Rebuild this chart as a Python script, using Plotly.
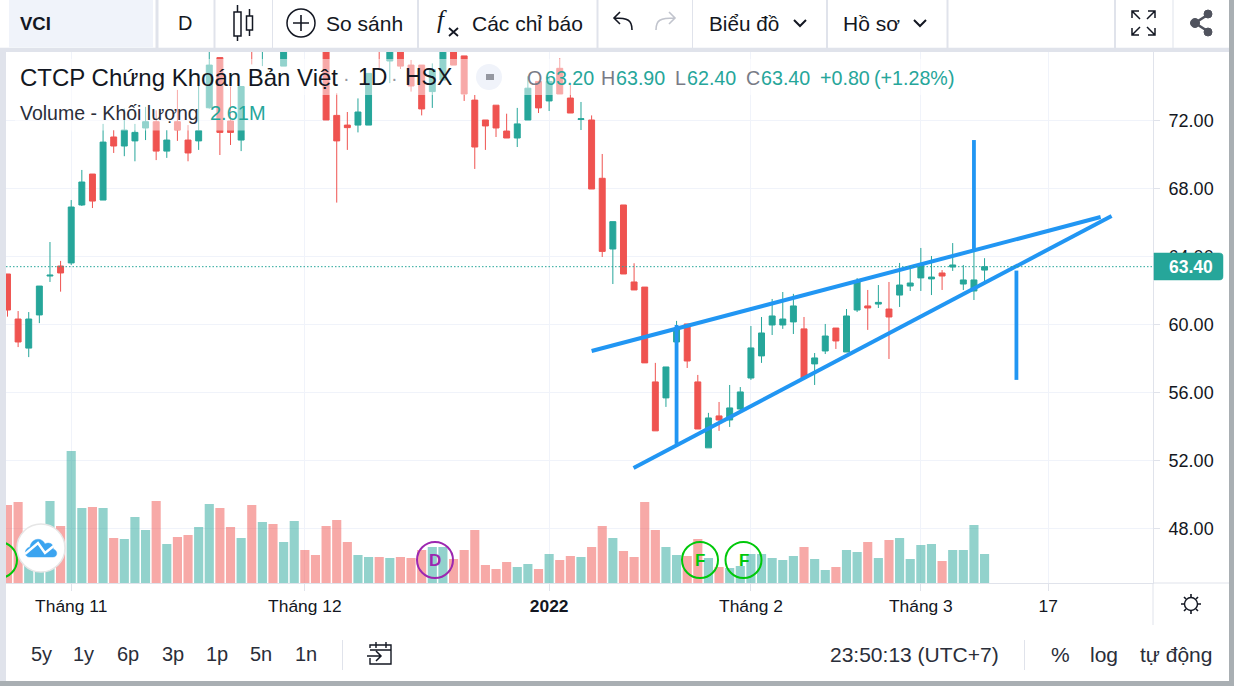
import plotly.graph_objects as go

# VCI daily candles (bars above the chart top are guesses)
opens = [62.97, 60.32, 58.61, 60.56, 62.85, 63.44, 63.62, 67.03, 68.85, 67.32, 71.03, 70.5, 70.8, 71.56, 71.93, 70.2,
         71.93, 70.85, 70.8, 72.75, 75.7, 71.97, 70.85, 77.5, 76.5, 78.0, 75.2, 76.5, 78.0, 78.5, 76.5, 72.3,
         71.73, 71.73, 71.73, 77.0, 75.5, 76.5, 75.26, 75.26, 73.7, 74.38, 76.2, 75.8, 73.2, 72.03, 72.9, 71.38,
         70.97, 72.03, 74.3, 73.15, 75.07, 73.32, 72.06, 72.03, 68.6, 64.44, 67.03, 62.5, 62.2, 56.62, 55.68, 58.97,
         60.03, 56.62, 52.74, 54.62, 54.38, 55.03, 56.85, 58.15, 59.97, 59.97, 60.15, 59.74, 57.68, 58.44, 59.79, 58.38,
         60.85, 61.09, 61.2, 60.91, 61.73, 62.26, 62.74, 62.68, 63.03, 63.38, 62.38, 61.97, 63.2]
highs = [62.97, 60.79, 60.73, 62.26, 64.85, 63.74, 67.32, 69.09, 68.85, 71.8, 71.44, 72.7, 71.8, 72.8, 72.6, 71.44,
         73.8, 71.73, 74.1, 76.2, 75.7, 74.0, 74.0, 78.0, 78.0, 78.5, 77.5, 78.0, 78.5, 79.0, 76.8, 73.6,
         72.5, 73.3, 74.77, 77.5, 77.0, 76.8, 75.56, 75.26, 75.36, 76.5, 76.5, 75.8, 73.5, 72.03, 72.9, 72.4,
         72.74, 74.6, 74.3, 74.5, 75.66, 74.09, 73.09, 72.3, 70.03, 66.05, 67.03, 63.6, 62.2, 57.74, 57.5, 60.21,
         60.03, 57.03, 54.8, 55.44, 56.44, 56.32, 59.91, 60.44, 61.5, 61.91, 61.8, 60.44, 58.32, 60.03, 59.79, 60.91,
         62.73, 62.03, 62.32, 62.5, 63.62, 63.44, 64.5, 64.03, 63.2, 64.79, 63.5, 64.67, 63.9]
lows = [60.46, 58.67, 58.08, 60.08, 62.5, 61.93, 63.5, 66.97, 66.85, 67.32, 70.09, 69.9, 69.6, 70.85, 69.67, 69.8,
        70.8, 69.6, 70.27, 72.7, 69.97, 70.56, 70.2, 75.3, 75.2, 76.5, 75.2, 76.3, 76.6, 76.8, 72.03, 67.17,
        70.27, 71.3, 71.73, 75.07, 74.2, 75.03, 73.7, 72.3, 72.74, 74.38, 75.26, 73.15, 69.15, 70.27, 71.03, 70.97,
        70.44, 72.03, 72.44, 72.56, 73.56, 72.44, 71.44, 67.97, 63.97, 62.38, 62.97, 62.03, 57.74, 53.74, 55.15, 57.32,
        57.44, 53.85, 52.74, 53.74, 53.97, 54.87, 56.74, 57.74, 59.38, 59.74, 59.44, 56.85, 56.44, 58.26, 58.56, 58.38,
        60.73, 59.68, 60.97, 57.97, 61.03, 61.97, 61.97, 61.73, 62.03, 63.15, 62.03, 61.44, 62.4]
closes = [60.85, 58.97, 60.32, 62.26, 62.9, 63.03, 66.91, 68.38, 67.26, 70.73, 70.5, 71.44, 71.3, 71.93, 70.2, 70.85,
          71.44, 70.09, 71.4, 75.26, 71.3, 71.3, 74.0, 76.4, 77.5, 77.0, 77.0, 77.5, 77.0, 77.5, 72.03, 70.8,
          71.58, 72.5, 74.77, 76.3, 76.6, 75.2, 74.03, 72.68, 75.0, 76.2, 75.26, 73.56, 70.44, 71.68, 71.56, 70.97,
          71.8, 73.9, 72.74, 74.3, 73.56, 72.44, 72.1, 67.97, 64.3, 66.05, 62.97, 62.03, 57.74, 53.74, 57.5, 59.74,
          57.85, 53.85, 54.5, 54.38, 55.09, 56.03, 58.62, 59.5, 60.5, 60.32, 61.09, 56.85, 58.03, 59.32, 59.03, 60.5,
          62.5, 60.97, 61.3, 60.44, 62.32, 62.44, 63.5, 62.79, 62.85, 63.5, 62.62, 62.62, 63.4]
volumes = [7.02, 7.29, 3.8, 4.2, 7.38, 5.13, 11.88, 6.75, 6.84, 6.75, 4.05, 3.96, 5.94, 4.77, 7.38, 3.51,
           4.14, 4.32, 5.04, 7.11, 6.75, 5.04, 4.05, 7.02, 5.49, 5.31, 3.69, 5.58, 2.97, 2.52, 5.13, 5.67,
           3.69, 2.52, 2.34, 2.34, 2.25, 2.34, 2.25, 2.97, 3.24, 3.24, 2.16, 2.97, 4.77, 1.62, 1.26, 1.89,
           1.44, 1.71, 1.26, 2.61, 2.07, 2.43, 2.34, 3.24, 5.13, 4.05, 2.88, 2.34, 7.29, 4.77, 3.24, 2.52,
           2.43, 3.96, 2.25, 1.44, 1.35, 1.53, 2.61, 2.61, 2.25, 2.07, 2.43, 3.24, 2.16, 1.17, 1.44, 2.97,
           2.79, 3.69, 2.25, 3.87, 4.05, 2.16, 3.42, 3.51, 1.98, 2.97, 2.97, 5.22, 2.61]

time_tick_pos = [6, 28, 51, 70, 86, 98]
time_tick_text = ["Tháng 11", "Tháng 12", "<b>2022</b>", "Tháng 2", "Tháng 3", "17"]
price_ticks = [48, 52, 56, 60, 64, 68, 72]

# drawn lines on the chart (bar index, price)
upper_line_x = [55.0, 102.93]
upper_line_y = [58.44, 66.32]
lower_line_x = [58.95, 103.96]
lower_line_y = [51.56, 66.38]
left_drop_x = [63, 63]
left_drop_y = [59.97, 52.97]
top_rise_x = [91, 91]
top_rise_y = [70.85, 64.38]
right_drop_x = [95, 95]
right_drop_y = [63.17, 56.74]

UP = "#26a69a"
DOWN = "#ef5350"
BLUE = "#2196f3"
GRID = "#f0f3fa"
BORDER = "#e0e3eb"
TEXT = "#131722"
FONT = "Liberation Sans"
W, H = 1234, 686


def px(x):
    return x / W


def py(y):
    return 1 - y / H


shapes = []
annotations = []


def rect(x0, y0, x1, y1, fill, line=None, width=0):
    shapes.append(dict(type="rect", xref="paper", yref="paper", x0=px(x0), x1=px(x1), y0=py(y0), y1=py(y1),
                       fillcolor=fill, line=dict(color=line or fill, width=width), layer="above"))


def circle(cx, cy, r, fill="rgba(0,0,0,0)", line="rgba(0,0,0,0)", width=1):
    shapes.append(dict(type="circle", xref="paper", yref="paper", x0=px(cx - r), x1=px(cx + r), y0=py(cy + r), y1=py(cy - r),
                       fillcolor=fill, line=dict(color=line, width=width), layer="above"))


def path(points, color=TEXT, width=1.5, fill="rgba(0,0,0,0)"):
    # points: text like "M 10,20 L 30,40", in screen pixels
    out = []
    for tok in points.split():
        if "," in tok:
            a, b = tok.split(",")
            out.append(f"{px(float(a)):.5f},{py(float(b)):.5f}")
        else:
            out.append(tok)
    shapes.append(dict(type="path", xref="paper", yref="paper", path=" ".join(out), fillcolor=fill,
                       line=dict(color=color, width=width), layer="above"))


def label(x, y, text, size=17, color=TEXT, anchor="left", family=FONT):
    annotations.append(dict(xref="paper", yref="paper", x=px(x), y=py(y), text=text, showarrow=False, xanchor=anchor,
                            yanchor="middle", font=dict(size=size, color=color, family=family), borderpad=0, borderwidth=0))


colors = [UP if c >= o else DOWN for o, c in zip(opens, closes)]
vol_colors = ["rgba(38,166,154,0.5)" if c == UP else "rgba(239,83,80,0.5)" for c in colors]
bar_idx = list(range(len(closes)))

fig = go.Figure()
fig.add_trace(go.Bar(x=bar_idx, y=volumes, marker=dict(color=vol_colors, line_width=0), width=0.86, yaxis="y", hoverinfo="skip"))
fig.add_trace(go.Candlestick(x=bar_idx, open=opens, high=highs, low=lows, close=closes, yaxis="y2",
                             increasing=dict(line=dict(color=UP, width=1), fillcolor=UP),
                             decreasing=dict(line=dict(color=DOWN, width=1), fillcolor=DOWN),
                             whiskerwidth=0))
for xs, ys, w in [(upper_line_x, upper_line_y, 4), (lower_line_x, lower_line_y, 4), (left_drop_x, left_drop_y, 3.8),
                  (top_rise_x, top_rise_y, 3.8), (right_drop_x, right_drop_y, 3.8)]:
    fig.add_trace(go.Scatter(x=xs, y=ys, mode="lines", yaxis="y2", line=dict(color=BLUE, width=w), hoverinfo="skip"))

# last price line
shapes.append(dict(type="line", xref="paper", yref="y2", x0=px(6), x1=px(1153), y0=closes[-1], y1=closes[-1],
                   line=dict(color=UP, width=1, dash="1.5px,2px"), layer="above"))

# legend background washes out what sits behind the text
rect(15, 59, 958, 95, "rgba(255,255,255,0.5)")
rect(15, 95, 270, 130.5, "rgba(255,255,255,0.5)")

# event markers in the volume pane
circle(-1, 560, 18, line="#00c80a", width=2)
circle(435, 560, 18, line="#9c27b0", width=2)
circle(700, 560, 18, line="#00c80a", width=2)
circle(743.5, 560, 18, line="#00c80a", width=2)
label(435, 560, "<b>D</b>", 17, "#9c27b0", "center")
label(700, 560, "<b>F</b>", 17, "#00c80a", "center")
label(743.5, 560, "<b>F</b>", 17, "#00c80a", "center")

# logo
circle(41, 548, 24, fill="white", line="#e6e6e6", width=1.5)
path("M 29,557 C 24,557 24,548 30,547 C 31,539 41,536 45,544 C 50,541 55,546 53,549 C 58,550 58,557 53,557 Z",
     color="#3ba4f0", width=0.5, fill="#3ba4f0")
path("M 25,554 L 38,543 L 45,553 L 55,545", color="white", width=2.4)

# window frame
rect(0, 48, 6, 686, BORDER)
rect(0, 47.5, 1234, 52, BORDER)
rect(0, 0, 1234, 47.5, "white")
rect(9, 0, 153, 47.5, "#f0f3fa")
for sx, sw in [(157, 3), (214.5, 2), (272.5, 1), (418, 2), (597.5, 2), (692.5, 1), (827, 2), (947.5, 2), (1115, 2), (1173, 1)]:
    rect(sx - sw / 2, 0, sx + sw / 2, 48, BORDER)
rect(1229, 0, 1234, 686, "#a9afb3")
rect(0, 681, 1234, 686, "#a9afb3")
rect(342, 640, 343, 670, BORDER)
rect(1024, 640, 1025, 670, BORDER)

# price tag
path("M 1154,253 L 1219,253 C 1222,253 1223,254 1223,257 L 1223,276 C 1223,279 1222,280 1219,280 L 1154,280 Z", color=UP, width=0.5, fill=UP)
label(1190.5, 266.5, f"<b>{closes[-1]:.2f}</b>", 17.5, "white", "center")

# top toolbar
label(20, 23, "<b>VCI</b>", 18.5)
label(185, 23, "D", 20, anchor="center")
path("M 237.5,5 L 237.5,41 M 249.5,9 L 249.5,36")
rect(234, 12, 241, 36, "white", TEXT, 1.5)
rect(246.5, 16, 252.5, 30, "white", TEXT, 1.5)
circle(301, 23, 14, line=TEXT, width=1.5)
path("M 293,23 L 309,23 M 301,15 L 301,31", width=1.6)
label(326, 23, "So sánh", 21)
label(437, 20, "<i>f</i>", 25, family="Liberation Serif")
path("M 449,28 L 458,36 M 458,28 L 449,36", width=1.8)
label(472, 23, "Các chỉ báo", 21)
path("M 632,30 C 632,20 628,18 614,18 M 620,12 L 614,18 L 620,24", width=1.6)
path("M 656,30 C 656,20 660,18 675,18 M 669,12 L 675,18 L 669,24", color="#c1c4cd", width=1.6)
label(709, 23, "Biểu đồ", 20.7)
path("M 794,20 L 800,26 L 806,20", width=2)
label(843, 23, "Hồ sơ", 21)
path("M 914,20 L 920,26 L 926,20", width=2)
# fullscreen corners
path("M 1132,18 L 1132,11 L 1139,11 M 1132,11 L 1140,19 M 1155,18 L 1155,11 L 1148,11 M 1155,11 L 1147,19", width=1.5)
path("M 1132,28 L 1132,35 L 1139,35 M 1132,35 L 1140,27 M 1155,28 L 1155,35 L 1148,35 M 1155,35 L 1147,27", width=1.5)
# share
path("M 1209,14 L 1195,23 L 1209,32", color="#50535e", width=2.6)
circle(1208, 14, 4, fill="#50535e", line="#50535e")
circle(1195, 23, 4.5, fill="#50535e", line="#50535e")
circle(1208, 32, 4, fill="#50535e", line="#50535e")

# legend text
label(20, 77, "CTCP Chứng Khoán Bản Việt", 24)
label(346, 78, "·", 20, "#9598a1", "center")
label(358, 77, "1D", 23)
label(394, 78, "·", 20, "#9598a1", "center")
label(405, 77, "HSX", 23)
circle(489, 77, 13, fill="#f0f3fa")
path("M 486,77 L 494,77", color="#9598a1", width=6)
for x, t, c in [(527, "O", "#787b86"), (544.5, "63.20", UP), (601, "H", "#787b86"), (616, "63.90", UP), (675, "L", "#787b86"),
                (687, "62.40", UP), (746, "C", "#787b86"), (761, "63.40", UP), (819.5, "+0.80", UP), (874, "(+1.28%)", UP)]:
    label(x, 78, t, 19.7, c)
label(20, 113, "Volume - Khối lượng", 19.5, "#2a2e39")
label(210, 113, "2.61M", 20, UP)

# time axis gear
circle(1191, 604, 6.5, line=TEXT, width=1.4)
path("M 1191,594 L 1191,597 M 1191,611 L 1191,614 M 1181,604 L 1184,604 M 1198,604 L 1201,604 M 1184,597 L 1186,599 "
     "M 1196,609 L 1198,611 M 1198,597 L 1196,599 M 1186,609 L 1184,611", width=1.6)

# bottom bar
for x, t in [(41, "5y"), (84, "1y"), (128, "6p"), (173, "3p"), (217, "1p"), (261, "5n"), (306, "1n")]:
    label(x, 654, t, 20, "#2a2e39", "center")
label(830, 654, "23:50:13 (UTC+7)", 21, "#2a2e39")
label(1060, 654, "%", 21, "#2a2e39", "center")
label(1104, 654, "log", 21, "#2a2e39", "center")
label(1175.5, 654, "tự động", 21, "#2a2e39", "center")
rect(370, 645, 391, 664, "rgba(0,0,0,0)", TEXT, 1.4)
rect(369, 648, 375, 658, "white")
path("M 376,642 L 376,648 M 386,642 L 386,648 M 370,650 L 391,650", width=1.4)
path("M 367,656 L 381,656 M 376,651 L 381,656 L 376,661", width=1.5)

fig.update_layout(
    width=W, height=H, autosize=False,
    margin=dict(l=0, r=0, t=0, b=0),
    paper_bgcolor="white", plot_bgcolor="white",
    showlegend=False, hovermode=False, dragmode=False,
    font=dict(family=FONT, color=TEXT, size=15),
    boxgap=0.2,
    xaxis=dict(domain=[px(6), px(1153)], range=[-0.14, 107.86], rangeslider=dict(visible=False),
               tickmode="array", tickvals=time_tick_pos, ticktext=time_tick_text,
               showgrid=True, gridcolor=GRID, gridwidth=1, zeroline=False,
               ticks="outside", ticklen=7, tickcolor=BORDER, showline=True, linecolor=BORDER, linewidth=1,
               anchor="y", tickfont=dict(size=17.4, color=TEXT), ticklabelstandoff=0),
    yaxis=dict(domain=[py(583), py(52)], range=[0, 47.79], visible=False, fixedrange=True),
    yaxis2=dict(overlaying="y", side="right", anchor="x", range=[44.79, 76.03], tickmode="array", tickvals=price_ticks,
                tickformat=".2f", showgrid=True, gridcolor=GRID, gridwidth=1, zeroline=False,
                ticks="outside", ticklen=6, tickcolor=BORDER, showline=True, linecolor=BORDER, linewidth=1,
                tickfont=dict(size=18, color=TEXT), ticklabelstandoff=5, fixedrange=True),
    shapes=shapes,
    annotations=annotations,
)

# the 1153 rule runs on through the time axis, and the time axis rule runs on to the frame
fig.add_shape(type="line", xref="paper", yref="paper", x0=px(1153), x1=px(1153), y0=py(625), y1=py(583), line=dict(color=BORDER, width=1), layer="above")
fig.add_shape(type="line", xref="paper", yref="paper", x0=px(1153), x1=px(1229), y0=py(583), y1=py(583), line=dict(color=BORDER, width=1), layer="above")

fig.write_html("out.html", config=dict(displayModeBar=False),
               post_script="document.body.style.margin='0';document.body.style.overflow='hidden';")
